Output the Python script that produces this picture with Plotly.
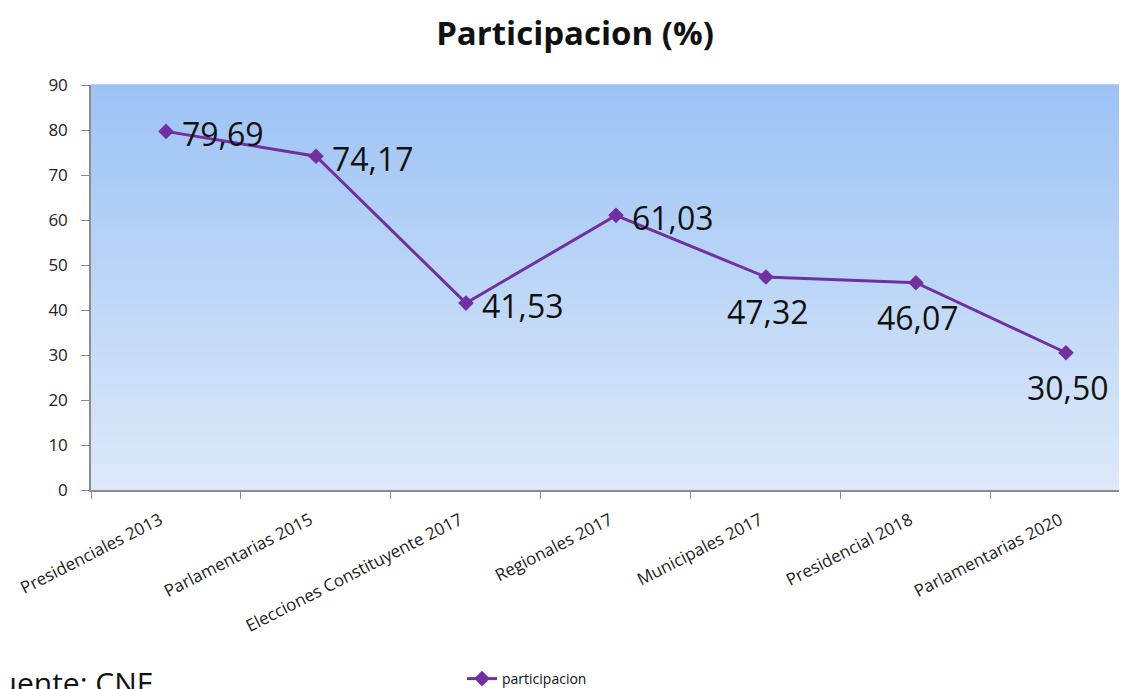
import plotly.graph_objects as go

categories = ["Presidenciales 2013", "Parlamentarias 2015", "Elecciones Constituyente 2017",
              "Regionales 2017", "Municipales 2017", "Presidencial 2018", "Parlamentarias 2020"]
participacion = [79.69, 74.17, 41.53, 61.03, 47.32, 46.07, 30.50]
labels = ["79,69", "74,17", "41,53", "61,03", "47,32", "46,07", "30,50"]
label_pos = ["right", "right", "right", "right", "below", "below", "below"]

# page has an 8px body margin -> figure is drawn 8px smaller and offset
OFF = 8
W, H = 1127 - OFF, 689 - OFF
ML, MR, MT = 91 - OFF, 0, 85 - OFF
PB = 490 - OFF            # plot bottom in figure px
MB = H - PB
PH = PB - MT
PW = W - ML - MR

fig = go.Figure()
fig.add_trace(go.Scatter(
    x=categories, y=participacion, mode="lines+markers", name="participacion",
    line=dict(color="#7030A0", width=3),
    marker=dict(symbol="diamond", size=12, color="#7030A0"),
))

# gradient background bands
top = (157, 195, 245)
bot = (221, 233, 249)
n = 60
shapes = []
for i in range(n):
    t = i / (n - 1)
    c = tuple(round(bot[k] + (top[k] - bot[k]) * t) for k in range(3))
    shapes.append(dict(type="rect", xref="x domain", yref="y domain",
                       x0=0, x1=1, y0=i / n, y1=(i + 1) / n + 0.002,
                       fillcolor="rgb(%d,%d,%d)" % c, line=dict(width=0), layer="below"))

annotations = []
for cat, v, lab, pos in zip(categories, participacion, labels, label_pos):
    if pos == "right":
        annotations.append(dict(x=cat, y=v, text=lab, showarrow=False, xanchor="left",
                                yanchor="middle", xshift=14, yshift=-2,
                                font=dict(family="Open Sans", size=32, color="#111")))
    else:
        annotations.append(dict(x=cat, y=v, text=lab, showarrow=False, xanchor="center",
                                yanchor="top", xshift=2, yshift=-11,
                                font=dict(family="Open Sans", size=32, color="#111")))

annotations.append(dict(xref="paper", yref="paper", x=(-19 - OFF - ML) / PW,
                        y=(PB - (660 - OFF)) / PH, xanchor="left", yanchor="top",
                        text="Fuente: CNE", showarrow=False,
                        font=dict(family="Open Sans", size=30, color="#111")))

fig.update_layout(
    width=W, height=H,
    margin=dict(l=ML, r=MR, t=MT, b=MB, autoexpand=False),
    paper_bgcolor="white", plot_bgcolor="rgba(0,0,0,0)",
    title=dict(text="<b>Participacion (%)</b>", x=(575 - OFF) / W, xanchor="center",
               y=1 - (33 - OFF) / H, yanchor="middle",
               font=dict(family="Open Sans", size=33, color="#111")),
    showlegend=True,
    legend=dict(orientation="h", x=(462 - OFF - ML) / PW, y=(PB - (679 - OFF)) / PH,
                xanchor="left", yanchor="middle", font=dict(family="Open Sans", size=14, color="#111"),
                bgcolor="rgba(0,0,0,0)"),
    shapes=shapes,
    annotations=annotations,
)
fig.update_xaxes(type="category", range=[-0.5, 6.407], showline=True, linecolor="#8c8c8c", linewidth=1.5,
                 ticks="outside", tickson="boundaries", ticklen=7, tickcolor="#8c8c8c",
                 tickangle=-27, showgrid=False, zeroline=False, automargin=False,
                 ticklabelstandoff=12, ticklabelshift=-6,
                 tickfont=dict(family="Open Sans", size=17, color="#222"))
fig.update_yaxes(range=[0, 90], dtick=10, showline=True, linecolor="#8c8c8c", linewidth=1.5,
                 ticks="outside", ticklen=8, tickcolor="#8c8c8c", showgrid=False, zeroline=False,
                 automargin=False, ticklabelstandoff=10,
                 tickfont=dict(family="Open Sans", size=17, color="#222"))

fig.write_html("out.html")
